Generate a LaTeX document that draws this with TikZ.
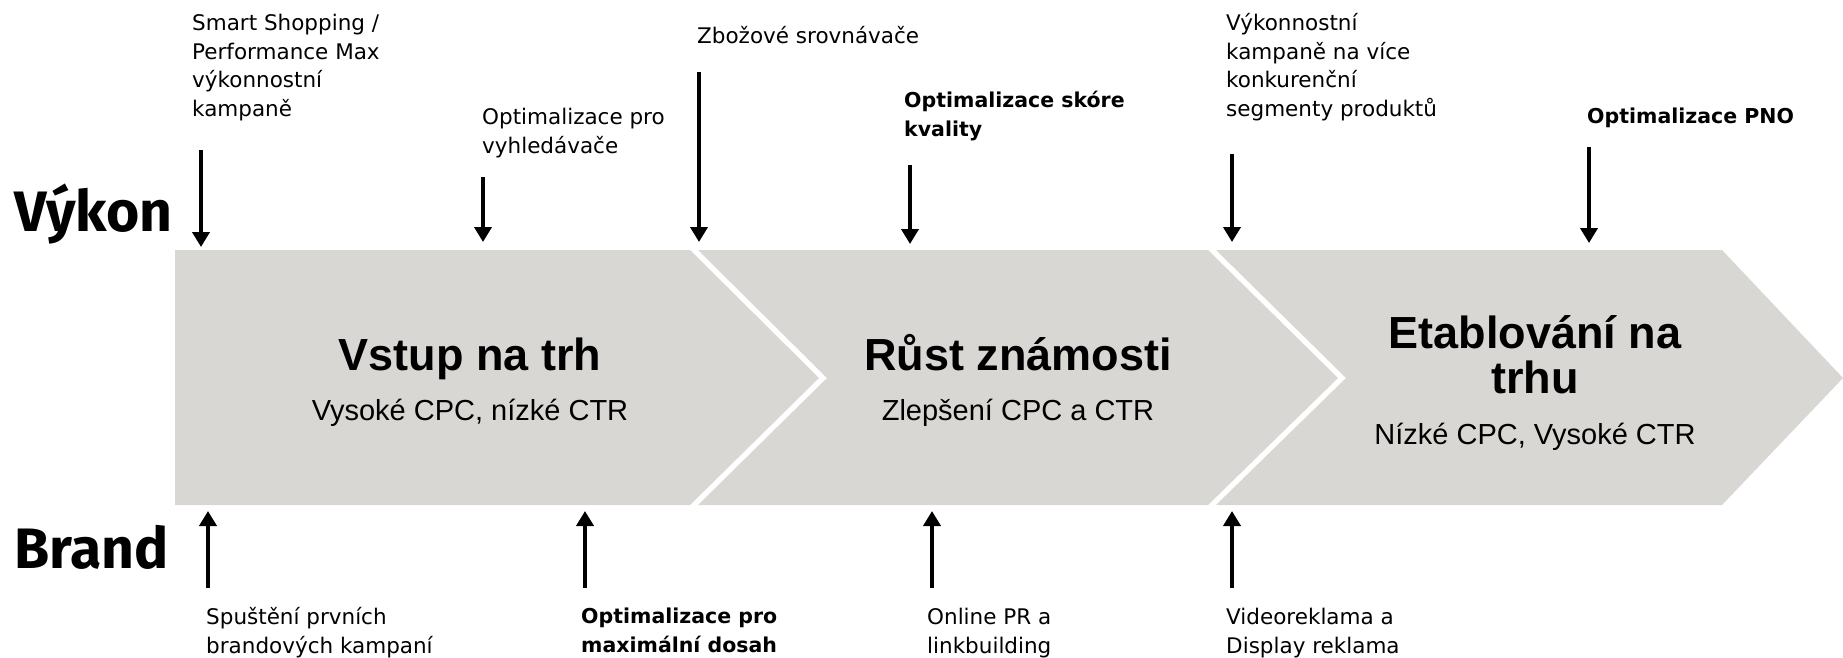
\documentclass[tikz,border=0pt]{standalone}
\usepackage{fontspec}
\setmainfont{Liberation Sans}
\newfontfamily\notefont{DejaVu Sans}
\newfontfamily\sidefont{Fira Sans}
\usetikzlibrary{arrows.meta}
\definecolor{bandgray}{RGB}{216,215,211}

\begin{document}
\begin{tikzpicture}[x=1pt, y=-1pt,
  arr/.style={line width=4.6pt, -{Triangle[width=17pt,length=15pt]}},
  note/.style={anchor=north west, inner sep=0pt, align=left,
    font=\notefont\fontsize{21.5}{28.6}\selectfont},
  boldnote/.style={note, font=\notefont\bfseries\fontsize{20.5}{28.6}\selectfont},
  side/.style={anchor=base west, inner sep=0pt, font=\sidefont\bfseries\fontsize{57}{60}\selectfont},
  title/.style={inner sep=0pt, align=center, font=\bfseries\fontsize{45}{45}\selectfont},
  sub/.style={anchor=base, inner sep=0pt, font=\fontsize{29}{34}\selectfont}]
  \useasboundingbox (0,0) rectangle (1843,657);

  \fill[bandgray] (175,250) -- (690,250) -- (819,378) -- (690,505) -- (175,505) -- cycle;
  \fill[bandgray] (698,250) -- (1208,250) -- (1338,378) -- (1208,505) -- (698,505) -- (827,378) -- cycle;
  \fill[bandgray] (1216,250) -- (1722,250) -- (1843,378) -- (1722,505) -- (1216,505) -- (1346,378) -- cycle;

  \node[title, anchor=base] (vstup) at (470,370) {Vstup na trh};
  \node[sub] (vstupsub) at (470,420) {Vysoké CPC, nízké CTR};
  \node[title, anchor=base] (rust) at (1018,370) {Růst známosti};
  \node[sub] (rustsub) at (1018,420) {Zlepšení CPC a CTR};
  \node[title, anchor=north] (etab) at (1535,315) {Etablování na\\trhu};
  \node[sub] (etabsub) at (1535,444) {Nízké CPC, Vysoké CTR};

  \node[side] (vykon) at (14,231) {Výkon};
  \node[side] (brand) at (14,568) {Brand};

  \node[note] (smart) at (192,14) {Smart Shopping /\\Performance Max\\výkonnostní\\kampaně};
  \node[note] (seo) at (482,108) {Optimalizace pro\\vyhledávače};
  \node[note] (zbozi) at (697,26) {Zbožové srovnávače};
  \node[boldnote] (skore) at (904,91) {Optimalizace skóre\\kvality};
  \node[note] (segment) at (1226,13) {Výkonnostní\\kampaně na více\\konkurenční\\segmenty produktů};
  \node[boldnote] (pno) at (1587,108) {Optimalizace PNO};

  \node[note] (spusteni) at (206,607) {Spuštění prvních\\brandových kampaní};
  \node[boldnote] (dosah) at (581,608) {Optimalizace pro\\maximální dosah};
  \node[note] (pr) at (927,608) {Online PR a\\linkbuilding};
  \node[note] (video) at (1226,608) {Videoreklama a\\Display reklama};

  \foreach \i/\x/\ya/\yb in {1/201/150/247, 2/483/177/242, 3/699/72/242,
      4/910/165/244, 5/1232/154/242, 6/1589/147/243} {
    \coordinate (vs\i) at (\x,\ya);
    \coordinate (ve\i) at (\x,\yb);
    \draw[arr] (vs\i) -- (ve\i);
  }
  \foreach \i/\x in {1/208, 2/585, 3/932, 4/1232} {
    \coordinate (bs\i) at (\x,588);
    \coordinate (be\i) at (\x,511);
    \draw[arr] (bs\i) -- (be\i);
  }
\end{tikzpicture}
\end{document}
